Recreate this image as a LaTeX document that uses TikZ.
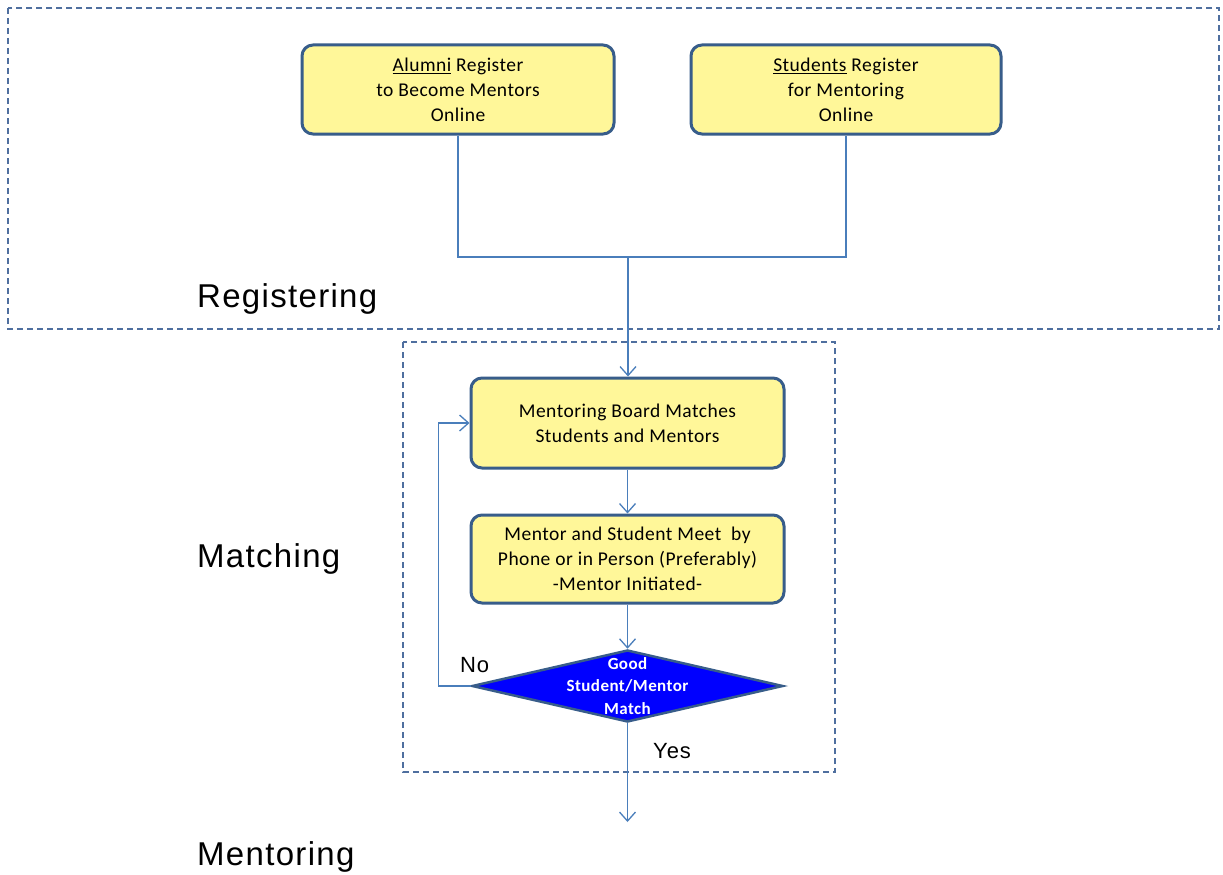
\documentclass[tikz,border=0pt]{standalone}
\usepackage{fontspec}
\setmainfont[LetterSpace=2.5]{Carlito}
\newfontfamily\labfont[LetterSpace=4]{Liberation Sans}
\usetikzlibrary{arrows.meta,shapes.geometric}
\definecolor{linec}{HTML}{4A7EBB}
\definecolor{boxborder}{HTML}{385D8A}
\definecolor{boxfill}{HTML}{FFF799}
\definecolor{dashc}{HTML}{4F6F9F}
\definecolor{decfill}{HTML}{0000FF}
\begin{document}
\begin{tikzpicture}[x=1pt,y=-1pt,
  procbox/.style={draw=boxborder, line width=3pt, fill=boxfill, rounded corners=11pt,
    minimum height=89pt, align=center, inner sep=0pt,
    font=\fontsize{19.5}{25}\selectfont},
  conn/.style={draw=linec, line width=1.3pt},
  arr/.style={conn, -{Straight Barb[length=9pt,width=16pt]}},
  region/.style={draw=dashc, line width=1.4pt, dash pattern=on 6pt off 4pt},
  sectlabel/.style={anchor=base west, inner sep=0pt, font=\labfont\fontsize{33}{38}\selectfont},
  answer/.style={anchor=base west, inner sep=0pt, font=\labfont\fontsize{22}{26}\selectfont},
]
\useasboundingbox (0,0) rectangle (1223,875);
\fill[white] (0,0) rectangle (1223,875);

% dashed regions
\draw[region] (8,8) rectangle (1219,329);
\draw[region] (403,342) rectangle (835,772);

% section labels
\node[sectlabel] (lreg) at (197,307) {Registering};
\node[sectlabel] (lmat) at (197,567) {Matching};
\node[sectlabel] (lmen) at (197,865) {Mentoring};

% boxes
\node[procbox, minimum width=312pt] (alumni) at (458,89.5)
  {\underline{Alumni} Register\\to Become Mentors\\Online};
\node[procbox, minimum width=310pt] (students) at (846,89.5)
  {\underline{Students} Register\\for Mentoring\\Online};
\node[procbox, minimum width=313pt, minimum height=90pt] (match) at (627.5,423)
  {Mentoring Board Matches\\Students and Mentors};
\node[procbox, minimum width=313pt, minimum height=88pt] (meet) at (627.5,559)
  {Mentor and Student Meet\ \ by\\Phone or in Person (Preferably)\\-Mentor Initiated-};

% decision
\node[diamond, draw=boxborder, line width=2.5pt, fill=decfill, inner sep=0pt,
  minimum width=311pt, minimum height=72pt] (dec) at (627.5,686) {};
\node[text=white, align=center, inner sep=0pt,
  font=\bfseries\fontsize{17}{22.5}\selectfont] (dectext) at (dec.center)
  {Good\\Student/Mentor\\Match};

% connectors
\coordinate (bus) at (628,257);
\draw[conn] (alumni.south) |- (bus) -| (students.south);
\draw[arr] (bus) -- (bus |- match.north);
\draw[arr] (match.south) -- (meet.north);
\draw[arr] (meet.south) -- (dec.north);
\draw[arr] (dec.west) -- ++(-32,0) |- (match.west);
\coordinate (out) at (627.5,822);
\draw[arr] (dec.south) -- (out);

% answer labels
\node[answer] (no) at (460,672) {No};
\node[answer] (yes) at (653,758) {Yes};
\end{tikzpicture}
\end{document}
